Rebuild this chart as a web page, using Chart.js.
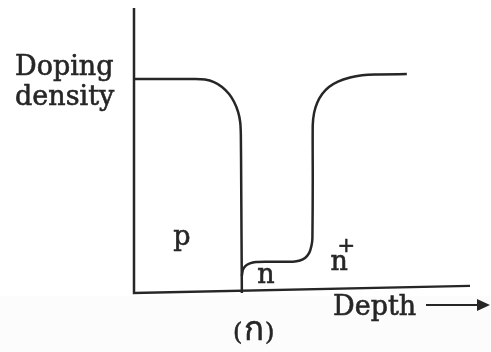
<!DOCTYPE html>
<html>
<head>
<meta charset="utf-8">
<script src="https://cdn.jsdelivr.net/npm/chart.js@4.4.0/dist/chart.umd.min.js"></script>
<style>
  html, body { margin: 0; padding: 0; background: #fff; }
  #wrap { width: 491px; height: 352px; }
</style>
</head>
<body>
<div id="wrap"><canvas id="profileChart" width="491" height="352"></canvas></div>
<script>
// depth / doping density in arbitrary units (axes run 0..10)
const pDepth   = [0, 1.82, 2.11, 2.38, 2.62, 2.83, 2.98, 3.10, 3.16, 3.18, 3.19, 3.21];
const pDensity = [7.51, 7.51, 7.49, 7.40, 7.23, 6.98, 6.70, 6.35, 6.00, 5.54, 3.96, 0];

const nDepth   = [3.21, 3.24, 3.32, 3.45, 3.63, 3.90, 4.73, 4.94, 5.09, 5.21, 5.28, 5.31, 5.32, 5.32,
                  5.36, 5.45, 5.60, 5.80, 6.07, 6.43, 6.79, 7.17, 8.12];
const nDensity = [0.60, 0.81, 0.95, 1.04, 1.09, 1.10, 1.10, 1.14, 1.23, 1.40, 1.65, 1.93, 3.96, 5.89,
                  6.32, 6.67, 6.98, 7.23, 7.42, 7.56, 7.64, 7.67, 7.68];

// axis lines (y axis from the top, then along the depth axis)
const axisDepth   = [0, 0, 10];
const axisDensity = [10, 0, 0.25];

const ink = '#262626';

function toPoints(xs, ys) {
	return xs.map((x, i) => ({x: x, y: ys[i]}));
}

// fill + slight stroke so the serif text looks as heavy as the lines
function inkText(ctx, txt, x, y) {
	ctx.fillText(txt, x, y);
	ctx.strokeText(txt, x, y);
}

// labels + arrow drawn on top of the plot
const labelPlugin = {
	id: 'labels',
	beforeDraw(chart) {
		const ctx = chart.ctx;
		ctx.save();
		ctx.fillStyle = '#ffffff';
		ctx.fillRect(0, 0, chart.width, chart.height);
		ctx.fillStyle = '#fcfcfc';
		ctx.fillRect(0, 296, chart.width, chart.height - 296);
		ctx.restore();
	},
	afterDraw(chart) {
		const ctx = chart.ctx;
		const xs = chart.scales.x, ys = chart.scales.y;
		ctx.save();
		ctx.fillStyle = ink;
		ctx.strokeStyle = ink;
		ctx.lineWidth = 0.6;
		ctx.textBaseline = 'alphabetic';
		ctx.font = '27px "DejaVu Serif"';
		inkText(ctx, 'Doping', 15, 75);
		inkText(ctx, 'density', 15, 105);

		// region names, placed in data units
		inkText(ctx, 'p', xs.getPixelForValue(1.17), ys.getPixelForValue(1.68));
		inkText(ctx, 'n', xs.getPixelForValue(3.67), ys.getPixelForValue(0.35));
		inkText(ctx, 'n', xs.getPixelForValue(5.85), ys.getPixelForValue(0.81));
		ctx.font = '21px "DejaVu Serif"';
		inkText(ctx, '+', xs.getPixelForValue(6.06), ys.getPixelForValue(1.43));

		ctx.font = '27px "DejaVu Serif"';
		inkText(ctx, 'Depth', 333, 315);

		// arrow
		ctx.lineWidth = 2;
		ctx.beginPath();
		ctx.moveTo(426, 305);
		ctx.lineTo(479, 305);
		ctx.stroke();
		ctx.beginPath();
		ctx.moveTo(477, 299);
		ctx.lineTo(490, 305);
		ctx.lineTo(477, 311);
		ctx.closePath();
		ctx.fill();

		// figure tag
		ctx.lineWidth = 0.6;
		ctx.font = '24px "DejaVu Serif"';
		inkText(ctx, '(', 233, 340);
		inkText(ctx, ')', 265, 340);
		ctx.font = '33px sans-serif';
		inkText(ctx, 'ก', 244, 340);
		ctx.restore();
	}
};

const ctx = document.getElementById('profileChart').getContext('2d');
const profileChart = new Chart(ctx, {
	type: 'scatter',
	data: {
		datasets: [
			{
				label: 'axes',
				data: toPoints(axisDepth, axisDensity),
				showLine: true,
				borderColor: ink,
				borderWidth: 2.5,
				pointRadius: 0,
				tension: 0,
				clip: 6
			},
			{
				label: 'p',
				data: toPoints(pDepth, pDensity),
				showLine: true,
				borderColor: ink,
				borderWidth: 2.5,
				pointRadius: 0,
				tension: 0.2,
				clip: 6
			},
			{
				label: 'n / n+',
				data: toPoints(nDepth, nDensity),
				showLine: true,
				borderColor: ink,
				borderWidth: 2.5,
				pointRadius: 0,
				tension: 0.2,
				clip: 6
			}
		]
	},
	options: {
		responsive: false,
		animation: false,
		layout: {padding: {left: 134, right: 21, top: 8, bottom: 59}},
		plugins: {legend: {display: false}, tooltip: {enabled: false}},
		scales: {
			x: {type: 'linear', min: 0, max: 10, display: false},
			y: {type: 'linear', min: 0, max: 10, display: false}
		}
	},
	plugins: [labelPlugin]
});
</script>
</body>
</html>
